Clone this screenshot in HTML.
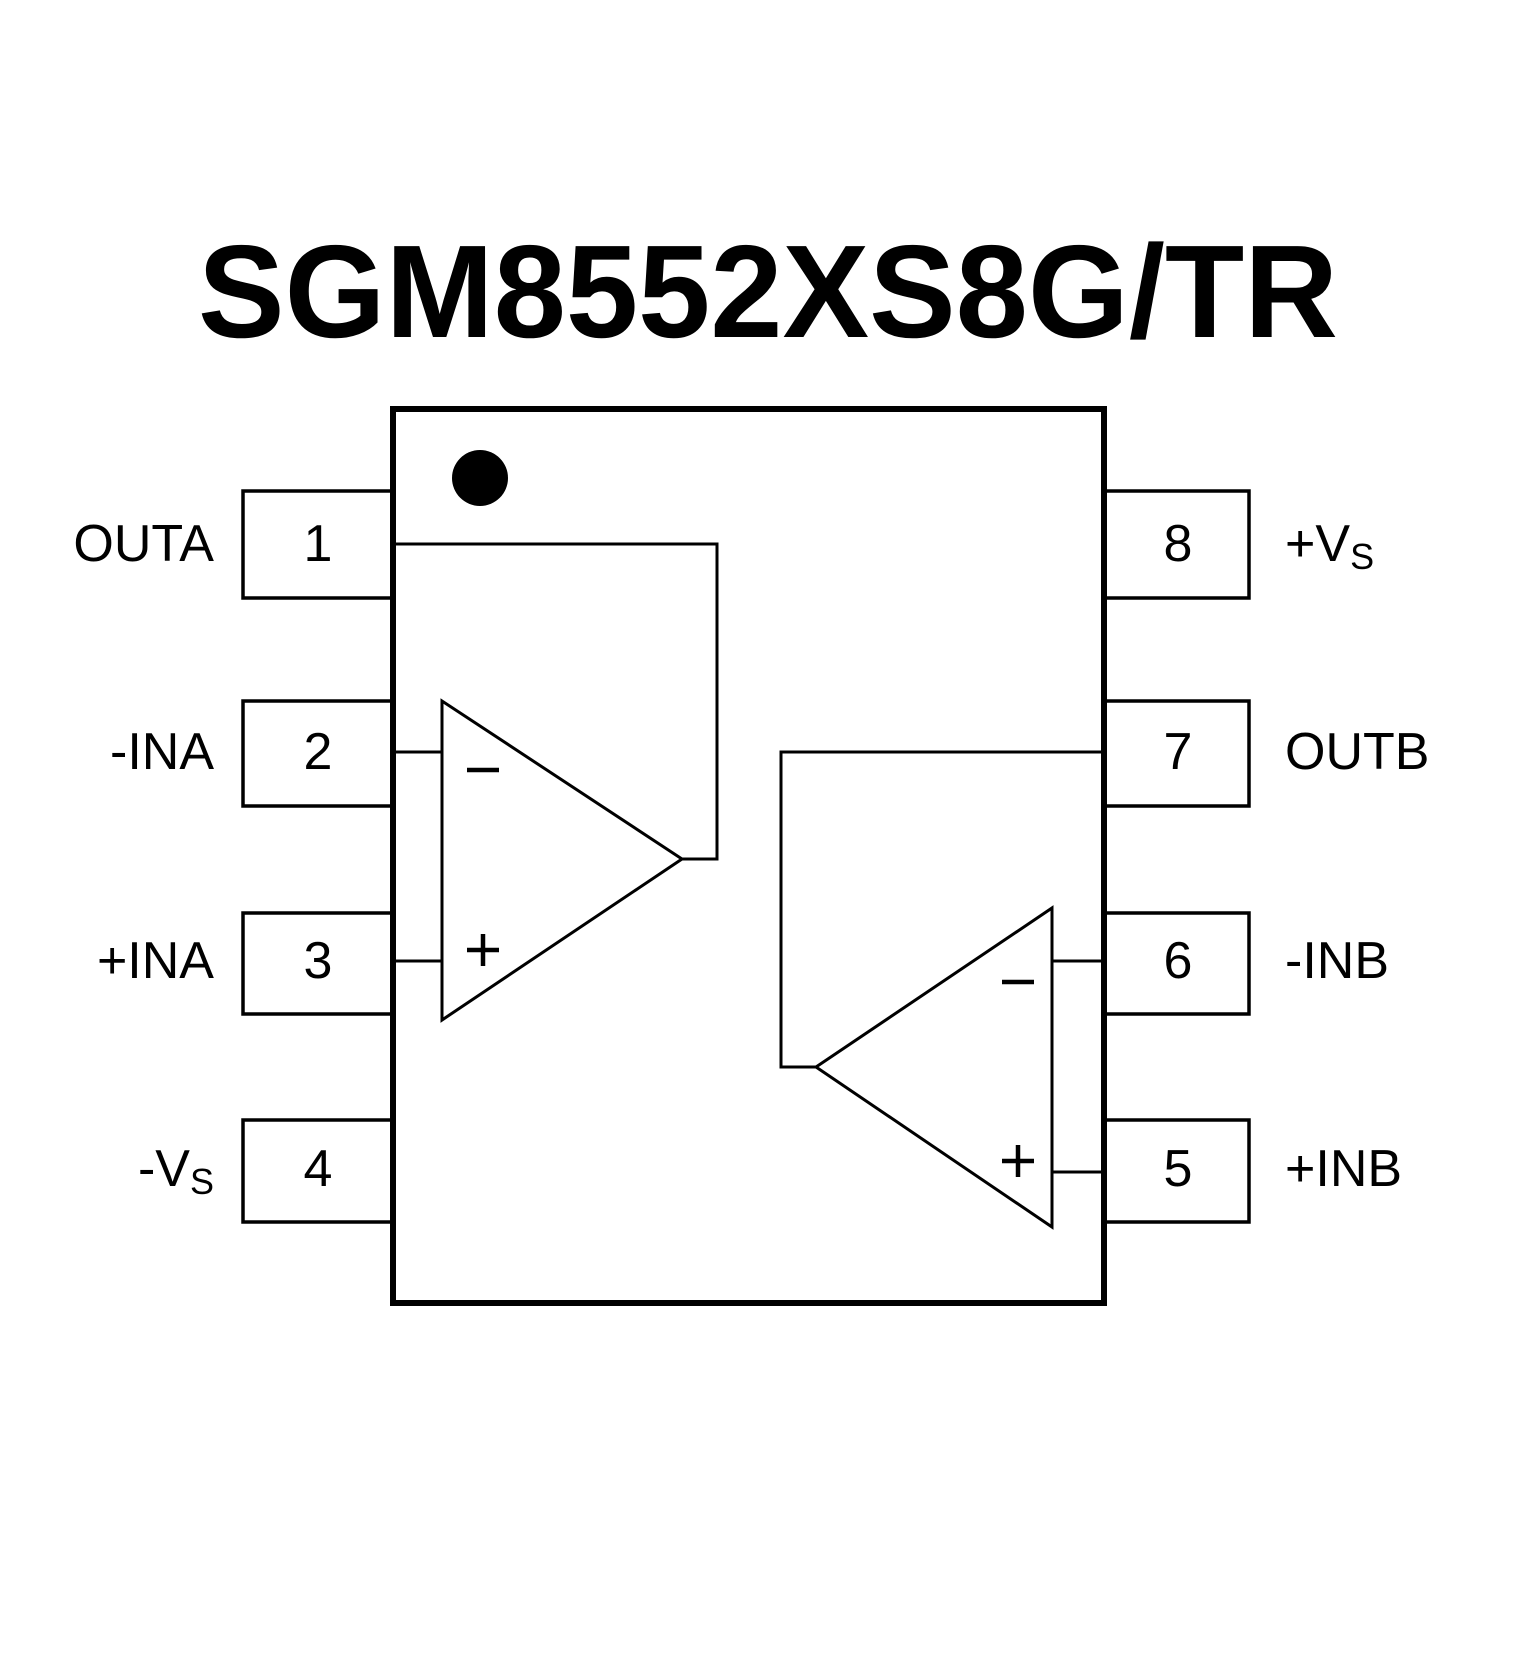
<!DOCTYPE html>
<html><head><meta charset="utf-8"><style>
html,body{margin:0;padding:0;background:#fff;}
svg{display:block;}
</style></head><body>
<svg width="1535" height="1675" viewBox="0 0 1535 1675" xmlns="http://www.w3.org/2000/svg">
<rect width="1535" height="1675" fill="#fff"/>
<text x="768" y="337" text-anchor="middle" font-family="Liberation Sans, sans-serif" font-weight="bold" font-size="132" textLength="1140" lengthAdjust="spacingAndGlyphs" fill="#000">SGM8552XS8G/TR</text>
<g fill="none" stroke="#000" stroke-width="3.5">
<polyline points="393,491 243,491 243,598 393,598"/>
<polyline points="393,701 243,701 243,806 393,806"/>
<polyline points="393,913 243,913 243,1014 393,1014"/>
<polyline points="393,1120 243,1120 243,1222 393,1222"/>
<polyline points="1104,491 1249,491 1249,598 1104,598"/>
<polyline points="1104,701 1249,701 1249,806 1104,806"/>
<polyline points="1104,913 1249,913 1249,1014 1104,1014"/>
<polyline points="1104,1120 1249,1120 1249,1222 1104,1222"/>
</g>
<rect x="393" y="409" width="711" height="894" fill="none" stroke="#000" stroke-width="6"/>
<circle cx="480" cy="478" r="28" fill="#000"/>
<g fill="none" stroke="#000" stroke-width="3">
<polygon points="442,701 442,1020 682,859"/>
<polyline points="393,544 717,544 717,859 682,859"/>
<line x1="393" y1="752" x2="442" y2="752"/>
<line x1="393" y1="961" x2="442" y2="961"/>
<polygon points="1052,908 1052,1227 816,1067"/>
<polyline points="1104,752 781,752 781,1067 816,1067"/>
<line x1="1052" y1="961" x2="1104" y2="961"/>
<line x1="1052" y1="1172" x2="1104" y2="1172"/>
</g>
<g stroke="#000" stroke-width="4.5">
<line x1="467" y1="770" x2="499" y2="770"/>
<line x1="467" y1="950" x2="499" y2="950"/>
<line x1="483" y1="934" x2="483" y2="966"/>
<line x1="1002" y1="982" x2="1034" y2="982"/>
<line x1="1002" y1="1161" x2="1034" y2="1161"/>
<line x1="1018" y1="1145" x2="1018" y2="1177"/>
</g>
<g font-family="Liberation Sans, sans-serif" font-size="52" fill="#000">
<g text-anchor="middle">
<text x="318" y="561">1</text>
<text x="318" y="769">2</text>
<text x="318" y="978">3</text>
<text x="318" y="1186">4</text>
<text x="1178" y="561">8</text>
<text x="1178" y="769">7</text>
<text x="1178" y="978">6</text>
<text x="1178" y="1186">5</text>
</g>
<g text-anchor="end">
<text x="214" y="561">OUTA</text>
<text x="214" y="769">-INA</text>
<text x="214" y="978">+INA</text>
<text x="214" y="1186">-V<tspan font-size="36" dy="8">S</tspan></text>
</g>
<text x="1285" y="561">+V<tspan font-size="36" dy="8">S</tspan></text>
<text x="1285" y="769">OUTB</text>
<text x="1285" y="978">-INB</text>
<text x="1285" y="1186">+INB</text>
</g>
</svg>
</body></html>
